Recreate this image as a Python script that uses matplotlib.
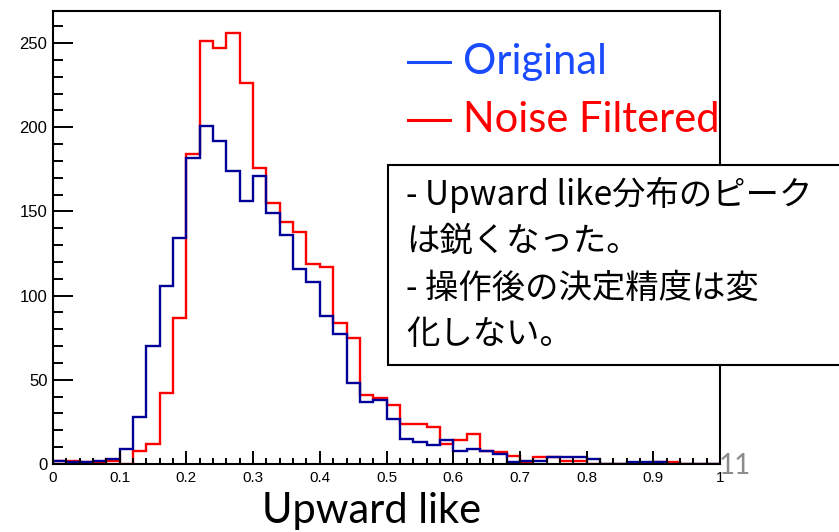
import numpy as np
import matplotlib
matplotlib.use("Agg")
import matplotlib.pyplot as plt
from matplotlib.patches import Rectangle
from matplotlib.lines import Line2D
from matplotlib.ticker import MultipleLocator

# 50 bins of width 0.02 over [0, 1]
bin_edges = np.linspace(0.0, 1.0, 51)

original = [2, 1, 1, 2, 3, 9, 28, 70, 106, 134,
            182, 201, 192, 174, 156, 171, 149, 136, 116, 108,
            88, 77, 48, 37, 38, 27, 15, 13, 11, 14,
            8, 9, 8, 6, 1, 2, 2, 4, 4, 4,
            3, 0, 0, 1, 1, 1, 0, 0, 0, 0]

noise_filtered = [2, 2, 1, 1, 2, 0, 8, 12, 42, 87,
                  184, 251, 247, 256, 226, 176, 155, 144, 138, 119,
                  117, 84, 75, 41, 39, 35, 24, 24, 22, 12,
                  14, 18, 8, 7, 5, 1, 4, 4, 2, 2,
                  0, 0, 0, 0, 0, 1, 1, 0, 0, 0]

x_ticks = [0, 0.1, 0.2, 0.3, 0.4, 0.5, 0.6, 0.7, 0.8, 0.9, 1]
x_tick_labels = ["0", "0.1", "0.2", "0.3", "0.4", "0.5", "0.6", "0.7", "0.8", "0.9", "1"]
y_ticks = [0, 50, 100, 150, 200, 250]

note_lines = ["- Upward like分布のピーク",
              "は鋭くなった。",
              "- 操作後の決定精度は変",
              "化しない。"]

fig = plt.figure(figsize=(8.39, 5.32), dpi=100)
ax = fig.add_axes([0.0632, 0.1278, 0.7950, 0.8515])

ax.stairs(noise_filtered, bin_edges, color="#ff0000", lw=1.7)
ax.stairs(original, bin_edges, color="#000099", lw=1.7)

ax.set_xlim(0, 1)
ax.set_ylim(0, 269)
ax.set_xticks(x_ticks)
ax.set_xticklabels(x_tick_labels)
ax.set_yticks(y_ticks)
ax.xaxis.set_minor_locator(MultipleLocator(0.02))
ax.yaxis.set_minor_locator(MultipleLocator(10))

for s in ax.spines.values():
    s.set_linewidth(1.5)

ax.tick_params(axis="both", which="both", direction="in", width=1.4,
               labelsize=11, top=False, right=False)
ax.tick_params(axis="y", which="major", length=14.4, pad=4, labelsize=12)
ax.tick_params(axis="y", which="minor", length=7.2)
ax.tick_params(axis="x", which="major", length=9.4, pad=5)
ax.tick_params(axis="x", which="minor", length=4.3)
for lab in ax.get_xticklabels() + ax.get_yticklabels():
    lab.set_family(["Liberation Sans", "DejaVu Sans"])

# legend drawn as coloured dash + coloured text
for y, txt, col in [(0.883, "Original", "#1a4bff"),
                    (0.775, "Noise Filtered", "#ff0000")]:
    fig.add_artist(Line2D([0.486, 0.536], [y, y], transform=fig.transFigure,
                          color=col, lw=2.2))
    fig.text(0.552, y, txt, color=col, fontsize=30, family="Lato",
             va="center", ha="left")

# annotation box
box = Rectangle((0.4625, 0.314), 0.56, 0.376, transform=fig.transFigure,
                facecolor="white", edgecolor="black", lw=1.5, clip_on=False,
                zorder=5)
fig.add_artist(box)
fig.text(0.484, 0.668, "\n".join(note_lines), fontsize=24,
         family=["Noto Sans CJK JP", "DejaVu Sans"], va="top", ha="left",
         linespacing=1.42, zorder=6)

fig.text(0.443, 0.040, "Upward like", fontsize=30, family="Lato",
         ha="center", va="center")
fig.text(0.876, 0.125, "11", fontsize=20, family="Lato", color="#8c8c8c",
         ha="center", va="center")

fig.savefig("out.png", dpi=100)
